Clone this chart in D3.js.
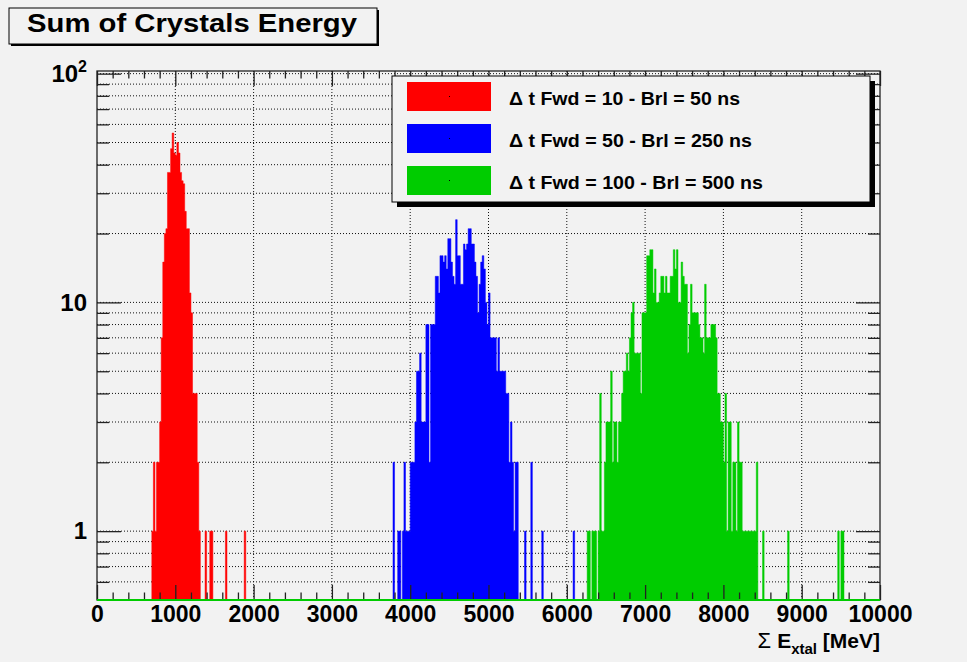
<!DOCTYPE html>
<html>
<head>
<meta charset="utf-8">
<script src="https://cdn.jsdelivr.net/npm/d3@7"></script>
<style>
  body { margin: 0; background: #f2f2f2; }
  svg { display: block; }
  text { font-family: "Liberation Sans", Arial, Helvetica, sans-serif; font-weight: bold; fill: #000; }
</style>
</head>
<body>
<svg id="chart" width="967" height="662"></svg>
<script>
// Histogram bin width in MeV
const binWidth = 20;

// Δt Fwd = 10 / Brl = 50 ns : first bin starts at 700 MeV
const redStart = 700;
const redCounts = [
  1, 2, 1, 2, 2, 3, 7, 15, 20, 21,
  37, 37, 47, 55, 45, 44, 50, 45, 37, 34,
  33, 25, 21, 21, 11, 9, 4, 4, 4, 2,
  1, 0, 0, 0, 1, 0, 0, 1, 1, 0,
  0, 0, 0, 0, 0, 0, 0, 1, 0, 0,
  0, 0, 0, 0, 0, 0, 0, 0, 0, 1
];

// Δt Fwd = 50 / Brl = 250 ns : first bin starts at 3780 MeV
const blueStart = 3780;
const blueCounts = [
  2, 0, 0, 1, 1, 0, 1, 2, 1, 1,
  1, 2, 2, 2, 3, 5, 5, 6, 3, 3,
  3, 8, 8, 2, 8, 8, 8, 13, 13, 11,
  16, 16, 15, 16, 14, 19, 19, 15, 13, 12,
  23, 16, 16, 12, 12, 18, 17, 18, 21, 21,
  18, 18, 15, 13, 9, 12, 15, 16, 14, 10,
  8, 11, 7, 7, 7, 7, 5, 7, 5, 5,
  5, 5, 4, 4, 2, 3, 2, 1, 2, 2,
  0, 0, 0, 0, 1, 0, 0, 0, 2, 0,
  0, 0, 0, 0, 0, 1, 0, 0, 0, 0,
  0, 0, 0, 0, 0, 0, 0, 0, 0, 0,
  0, 0, 0, 0, 0, 1
];

// Δt Fwd = 100 / Brl = 500 ns : first bin starts at 6000 MeV
const greenStart = 6000;
const greenCounts = [
  0, 0, 0, 0, 0, 0, 0, 0, 0, 0,
  0, 0, 0, 1, 1, 0, 1, 1, 1, 0,
  1, 4, 1, 1, 2, 3, 3, 3, 5, 2,
  3, 3, 2, 3, 3, 4, 5, 5, 6, 5,
  7, 9, 10, 6, 6, 6, 6, 4, 9, 9,
  9, 16, 16, 17, 17, 11, 14, 10, 10, 11,
  13, 13, 11, 13, 11, 11, 13, 13, 17, 14,
  17, 10, 10, 15, 13, 12, 12, 6, 8, 12,
  9, 9, 9, 9, 8, 7, 7, 6, 12, 7,
  7, 7, 8, 8, 8, 7, 4, 4, 3, 3,
  2, 4, 1, 3, 3, 1, 2, 2, 1, 3,
  2, 2, 1, 1, 1, 1, 1, 1, 1, 1,
  1, 2, 0, 0, 0, 1, 0, 0, 0, 0,
  0, 0, 0, 0, 0, 0, 0, 0, 0, 0,
  0, 1, 0, 0, 0, 0, 0, 0, 0, 0,
  0, 0, 0, 0, 0, 0, 0, 0, 0, 0,
  0, 0, 0, 0, 0, 0, 0, 0, 0, 0,
  0, 0, 0, 1, 0, 1, 1, 0
];

const seriesNames = [
  "\u0394 t Fwd = 10 - Brl = 50 ns",
  "\u0394 t Fwd = 50 - Brl = 250 ns",
  "\u0394 t Fwd = 100 - Brl = 500 ns"
];
const seriesColors = ["#ff0000", "#0000ff", "#00cc00"];

const xMajorTicks = [0, 1000, 2000, 3000, 4000, 5000, 6000, 7000, 8000, 9000, 10000];
const xMinorTicks = d3.range(0, 10001, 200).filter(v => v % 1000 !== 0);
const yMajorTicks = [1, 10, 100];
const yMinorTicks = [0.6, 0.7, 0.8, 0.9, 2, 3, 4, 5, 6, 7, 8, 9, 20, 30, 40, 50, 60, 70, 80, 90];

const titleText = "Sum of Crystals Energy";

// ---------------------------------------------------------------
const W = 967, H = 662;
const frame = { left: 97, right: 880, top: 71, bottom: 600 };

const x = d3.scaleLinear().domain([0, 10000]).range([frame.left, frame.right]);
const y = d3.scaleLog().domain([0.5, 102.7]).range([frame.bottom, frame.top]);

const svg = d3.select("#chart");
svg.append("rect").attr("width", W).attr("height", H).attr("fill", "#f2f2f2");

// Title box with drop shadow
svg.append("rect").attr("x", 11).attr("y", 10).attr("width", 368).attr("height", 36).attr("fill", "#000");
svg.append("rect").attr("x", 9).attr("y", 8).attr("width", 368).attr("height", 36)
  .attr("fill", "#f2f2f2").attr("stroke", "#000").attr("stroke-width", 1);
svg.append("text").attr("x", 27).attr("y", 32).attr("font-size", 26)
  .attr("textLength", 330).attr("lengthAdjust", "spacingAndGlyphs").text(titleText);

// Dotted grid
const grid = svg.append("g").attr("stroke", "#111").attr("stroke-width", 1)
  .attr("stroke-dasharray", "1,2").attr("fill", "none");
grid.selectAll("line.gx").data(xMajorTicks.filter(v => v > 0 && v < 10000)).join("line")
  .attr("class", "gx")
  .attr("x1", d => x(d)).attr("x2", d => x(d))
  .attr("y1", frame.top).attr("y2", frame.bottom);
grid.selectAll("line.gy").data(yMajorTicks.concat(yMinorTicks)).join("line")
  .attr("class", "gy")
  .attr("x1", frame.left).attr("x2", frame.right)
  .attr("y1", d => y(d)).attr("y2", d => y(d));

// Histograms: each run of consecutive non-empty bins becomes one filled step polygon
const series = [
  { start: redStart, counts: redCounts, color: seriesColors[0] },
  { start: blueStart, counts: blueCounts, color: seriesColors[1] },
  { start: greenStart, counts: greenCounts, color: seriesColors[2] }
];
const line = d3.line();
series.forEach(s => {
  const runs = [];
  let cur = null;
  s.counts.forEach((c, i) => {
    const x0 = s.start + i * binWidth, x1 = x0 + binWidth;
    if (c > 0) {
      if (!cur) { cur = [[x(x0), frame.bottom]]; }
      cur.push([x(x0), y(c)], [x(x1), y(c)]);
    } else if (cur) {
      cur.push([cur[cur.length - 1][0], frame.bottom]);
      runs.push(cur); cur = null;
    }
  });
  if (cur) { cur.push([cur[cur.length - 1][0], frame.bottom]); runs.push(cur); }
  svg.append("g").selectAll("path").data(runs).join("path")
    .attr("d", r => line(r) + "Z")
    .attr("fill", s.color).attr("stroke", s.color).attr("stroke-width", 0.5);
});

// Axes
function styleAxis(g) {
  g.select(".domain").remove();
  g.selectAll(".tick line").attr("stroke", "#222").attr("stroke-width", 1.3);
  g.attr("font-family", null).attr("font-size", null);
  g.selectAll(".tick text").attr("fill", "#000");
}

// bottom
svg.append("g").attr("transform", `translate(0,${frame.bottom})`)
  .call(d3.axisBottom(x).tickValues(xMajorTicks).tickSize(-15).tickPadding(6).tickFormat(d3.format("d")))
  .call(styleAxis)
  .selectAll(".tick text").attr("font-size", 23);
svg.append("g").attr("transform", `translate(0,${frame.bottom})`)
  .call(d3.axisBottom(x).tickValues(xMinorTicks).tickSize(-7.5).tickFormat(""))
  .call(styleAxis);
// top
svg.append("g").attr("transform", `translate(0,${frame.top})`)
  .call(d3.axisTop(x).tickValues(xMajorTicks).tickSize(-15).tickFormat(""))
  .call(styleAxis);
svg.append("g").attr("transform", `translate(0,${frame.top})`)
  .call(d3.axisTop(x).tickValues(xMinorTicks).tickSize(-7.5).tickFormat(""))
  .call(styleAxis);
// left
const yAxisG = svg.append("g").attr("transform", `translate(${frame.left},0)`)
  .call(d3.axisLeft(y).tickValues(yMajorTicks).tickSize(-24).tickPadding(10)
    .tickFormat(d => d === 100 ? "" : d3.format("d")(d)))
  .call(styleAxis);
yAxisG.selectAll(".tick text").attr("font-size", 24);
const hundred = yAxisG.selectAll(".tick").filter(d => d === 100).select("text");
hundred.append("tspan").text("10");
hundred.append("tspan").attr("font-size", 16).attr("dy", -10).text("2");
svg.append("g").attr("transform", `translate(${frame.left},0)`)
  .call(d3.axisLeft(y).tickValues(yMinorTicks).tickSize(-12).tickFormat(""))
  .call(styleAxis);
// right
svg.append("g").attr("transform", `translate(${frame.right},0)`)
  .call(d3.axisRight(y).tickValues(yMajorTicks).tickSize(-24).tickFormat(""))
  .call(styleAxis);
svg.append("g").attr("transform", `translate(${frame.right},0)`)
  .call(d3.axisRight(y).tickValues(yMinorTicks).tickSize(-12).tickFormat(""))
  .call(styleAxis);

// Frame
svg.append("rect").attr("x", frame.left).attr("y", frame.top)
  .attr("width", frame.right - frame.left).attr("height", frame.bottom - frame.top)
  .attr("fill", "none").attr("stroke", "#222").attr("stroke-width", 1.3);
// empty-bin outline of the last drawn histogram along the bottom edge
svg.append("line").attr("x1", frame.left).attr("x2", frame.right)
  .attr("y1", frame.bottom).attr("y2", frame.bottom)
  .attr("stroke", seriesColors[2]).attr("stroke-width", 2);

// X axis title
const xt = svg.append("text").attr("x", frame.right).attr("y", 648)
  .attr("text-anchor", "end").attr("font-size", 21);
xt.append("tspan").attr("font-weight", "normal").attr("font-size", 22).text("\u03A3 ");
xt.append("tspan").text("E");
xt.append("tspan").attr("font-size", 15).attr("dy", 6).text("xtal");
xt.append("tspan").attr("dy", -6).text(" [MeV]");

// Legend with drop shadow
const leg = { x: 392, y: 76, w: 478, h: 126 };
svg.append("rect").attr("x", leg.x + 5).attr("y", leg.y + 5).attr("width", leg.w).attr("height", leg.h).attr("fill", "#000");
svg.append("rect").attr("x", leg.x).attr("y", leg.y).attr("width", leg.w).attr("height", leg.h)
  .attr("fill", "#f2f2f2").attr("stroke", "#000").attr("stroke-width", 1);
const legendWidths = [231, 243, 254];
seriesNames.forEach((name, i) => {
  const top = 82 + i * 42;
  svg.append("rect").attr("x", 407).attr("y", top).attr("width", 84).attr("height", 29)
    .attr("fill", seriesColors[i]);
  svg.append("rect").attr("x", 449).attr("y", top + 14).attr("width", 1).attr("height", 1).attr("fill", "#000");
  svg.append("text").attr("x", 509).attr("y", top + 23).attr("font-size", 18)
    .attr("textLength", legendWidths[i]).attr("lengthAdjust", "spacingAndGlyphs").text(name);
});
</script>
</body>
</html>
